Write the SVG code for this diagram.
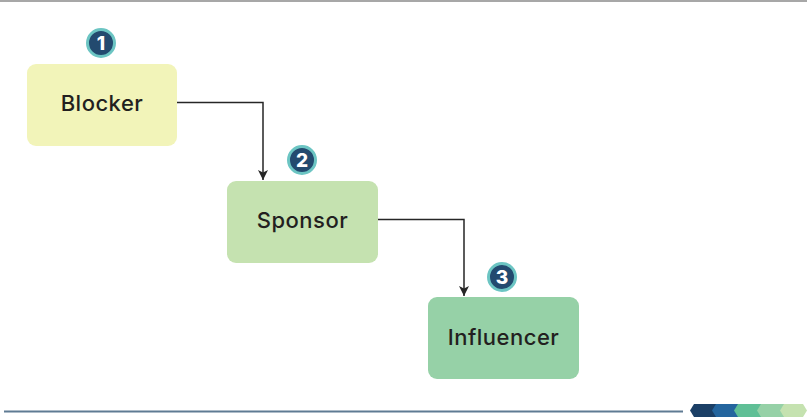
<svg xmlns="http://www.w3.org/2000/svg" width="807" height="417" viewBox="0 0 807 417">
<defs>
<marker id="arr" viewBox="0 0 10 10" refX="10" refY="5" markerWidth="10" markerHeight="10" markerUnits="userSpaceOnUse" orient="auto">
<path d="M0,0 L10,5 L0,10 L2.5,5 Z" fill="#262626"/>
</marker>
</defs>
<style>
.box{stroke:none}
.lbl{font-family:Inter,"Open Sans","Liberation Sans",sans-serif;font-size:22px;font-weight:500;fill:#231f20;text-anchor:middle;dominant-baseline:central;letter-spacing:0.5px}
.badge{fill:#234a6f;stroke:#6cc5c3;stroke-width:3}
.num{font-family:Inter,"Open Sans","Liberation Sans",sans-serif;font-size:19px;font-weight:800;fill:#ffffff;text-anchor:middle;dominant-baseline:central}
.conn{fill:none;stroke:#262626;stroke-width:1.5}
</style>
<rect width="807" height="417" fill="#ffffff"/>
<line x1="0" y1="1" x2="807" y2="1" stroke="#8a8a8a" stroke-width="1.5"/>
<line x1="4" y1="411.5" x2="683" y2="411.5" stroke="#5f7b93" stroke-width="2"/>
<g id="footer-chevrons">
<polygon points="694,404 716,404 716,417 694,417 690,410.5" fill="#1b3f66"/>
<polygon points="716,404 738,404 738,417 716,417 712,410.5" fill="#24659e"/>
<polygon points="738,404 761,404 761,417 738,417 734,410.5" fill="#5fbf96"/>
<polygon points="761,404 784,404 784,417 761,417 757,410.5" fill="#96d1a7"/>
<polygon points="784,404 803,404 807,410.5 803,417 784,417 780,410.5" fill="#c5e2b0"/>
</g>
<g id="connectors">
<path class="conn" d="M177,102.5 H263 V180" marker-end="url(#arr)"/>
<path class="conn" d="M378,219.5 H464 V296" marker-end="url(#arr)"/>
</g>
<g id="node-blocker">
<rect class="box" x="27" y="64" width="150" height="82" rx="9" fill="#f2f4b9"/>
<text class="lbl" x="102" y="103">Blocker</text>
<circle class="badge" cx="101" cy="43" r="13.5"/>
<text class="num" x="101" y="43">1</text>
</g>
<g id="node-sponsor">
<rect class="box" x="227" y="181" width="151" height="82" rx="9" fill="#c5e2b0"/>
<text class="lbl" x="302.5" y="220">Sponsor</text>
<circle class="badge" cx="302" cy="160" r="13.5"/>
<text class="num" x="302" y="160">2</text>
</g>
<g id="node-influencer">
<rect class="box" x="428" y="297" width="151" height="82" rx="9" fill="#96d1a7"/>
<text class="lbl" x="503.5" y="337">Influencer</text>
<circle class="badge" cx="502" cy="277" r="13.5"/>
<text class="num" x="502" y="277">3</text>
</g>
</svg>
